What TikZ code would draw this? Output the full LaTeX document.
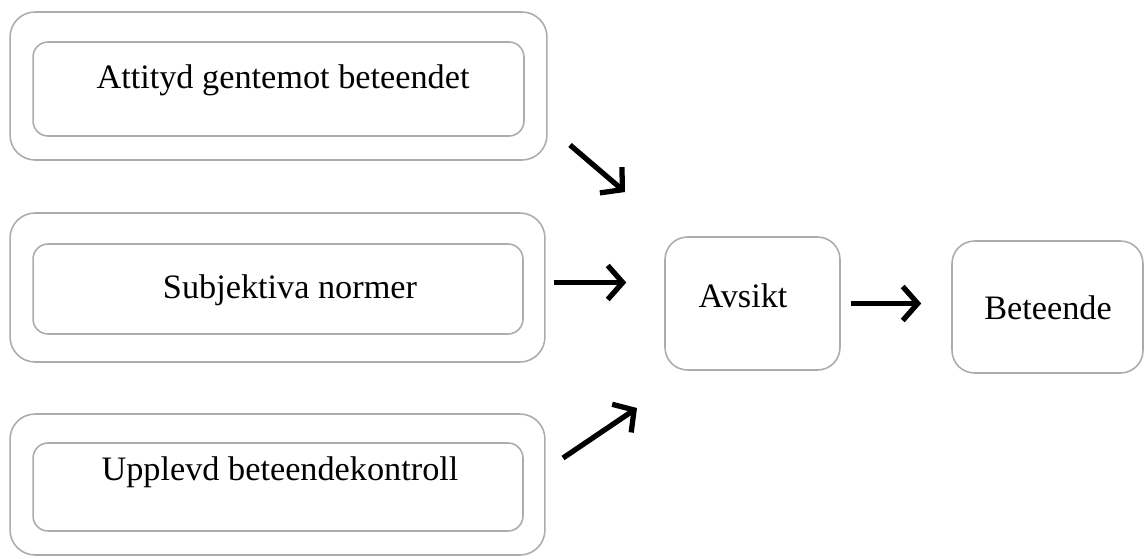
\documentclass[tikz,border=0pt]{standalone}
\usepackage{fontspec}
\setmainfont{Liberation Serif}
\usepackage{xcolor}
\usepackage{tikz}
\usetikzlibrary{shapes,arrows.meta,positioning,calc}

\tikzset{
    ytre/.style={draw=gray!65, line width=0.9pt, rounded corners=0.5cm},
    inre/.style={draw=gray!65, line width=0.9pt, rounded corners=0.3cm},
    ruta/.style={draw=gray!65, line width=0.9pt, rounded corners=0.45cm},
    etikett/.style={font=\fontsize{19.5}{22}\selectfont, inner sep=0pt},
    pil/.style={line width=3pt, -{Straight Barb[length=3mm,width=6.8mm,line width=3pt]}}
}

\begin{document}
\begin{tikzpicture}[x=0.02cm, y=-0.02cm]
\useasboundingbox (0,0) rectangle (1145,558);

% Vänster kolumn: tre dubbla rutor
\node[ytre, minimum width=10.74cm, minimum height=2.96cm] (attYtre) at (278.5,86) {};
\node[inre, minimum width=9.82cm, minimum height=1.88cm] (attInre) at (278.5,89) {};
\node[etikett] (att) at (283,80) {Attityd gentemot beteendet};

\node[ytre, minimum width=10.70cm, minimum height=2.98cm] (normYtre) at (277.5,287.5) {};
\node[inre, minimum width=9.80cm, minimum height=1.80cm] (normInre) at (278,289) {};
\node[etikett] (norm) at (290,290) {Subjektiva normer};

\node[ytre, minimum width=10.70cm, minimum height=2.82cm] (kontrYtre) at (277.5,484.5) {};
\node[inre, minimum width=9.80cm, minimum height=1.76cm] (kontrInre) at (278,487) {};
\node[etikett] (kontr) at (280,472) {Upplevd beteendekontroll};

% Avsikt och beteende
\node[ruta, minimum width=3.5cm, minimum height=2.66cm] (avsiktRuta) at (752.5,303.5) {};
\node[etikett] (avsikt) at (743,296) {Avsikt};
\node[ruta, minimum width=3.82cm, minimum height=2.64cm] (beteendeRuta) at (1047.5,307) {};
\node[etikett] (beteende) at (1048,308) {Beteende};

% Pilar
\coordinate (p1a) at (570,145);
\coordinate (p1b) at (625,192);
\coordinate (p3a) at (563,458);
\coordinate (p3b) at (637,408);
\draw[pil] (p1a) -- (p1b);
\draw[pil, shorten <=0.16cm, shorten >=0.76cm] ($(normYtre.east)+(0,-5)$) -- ($(normYtre.east -| avsiktRuta.west)+(0,-5)$);
\draw[pil] (p3a) -- (p3b);
\draw[pil, shorten <=0.2cm, shorten >=0.6cm] (avsiktRuta.east) -- (avsiktRuta.east -| beteendeRuta.west);
\end{tikzpicture}
\end{document}
